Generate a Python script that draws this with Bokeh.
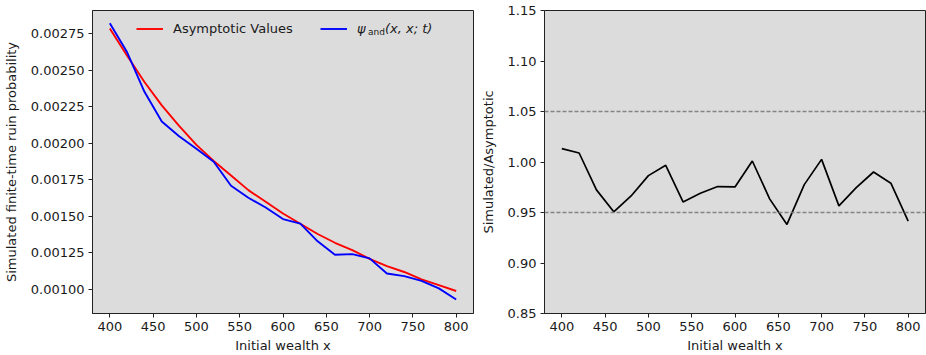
from bokeh.plotting import figure
from bokeh.layouts import row
from bokeh.models import (Legend, LegendItem, Label, FixedTicker, PrintfTickFormatter,
                          Span, Range1d)
from bokeh.embed import file_html
from bokeh.resources import INLINE

# ---- data ----
wealth = [400, 420, 440, 460, 480, 500, 520, 540, 560, 580, 600,
          620, 640, 660, 680, 700, 720, 740, 760, 780, 800]
asymptotic = [0.002786, 0.002600, 0.002420, 0.002260, 0.002120, 0.001990, 0.001880,
              0.001780, 0.001680, 0.001600, 0.001520, 0.001450, 0.001380, 0.001320,
              0.001270, 0.001210, 0.001160, 0.001120, 0.001070, 0.001030, 0.000990]
simulated = [0.002822, 0.002623, 0.002353, 0.002149, 0.002049, 0.001963, 0.001874,
             0.001710, 0.001628, 0.001561, 0.001482, 0.001451, 0.001330, 0.001238,
             0.001242, 0.001213, 0.001110, 0.001092, 0.001059, 0.001008, 0.000932]
ratio = [1.0132, 1.0089, 0.9724, 0.9507, 0.9664, 0.9865, 0.9967, 0.9605, 0.9691,
         0.9757, 0.9753, 1.0010, 0.9635, 0.9382, 0.9776, 1.0026, 0.9566, 0.9747,
         0.9901, 0.9790, 0.9414]
band_levels = [0.95, 1.05]
x_ticks = [400, 450, 500, 550, 600, 650, 700, 750, 800]
y1_ticks = [0.00100, 0.00125, 0.00150, 0.00175, 0.00200, 0.00225, 0.00250, 0.00275]
y2_ticks = [0.85, 0.90, 0.95, 1.00, 1.05, 1.10, 1.15]

FONT = "DejaVu Sans"
FS = "13px"
TXT = "#1a1a1a"
BG = "#dcdcdc"


def style(p, yticks, yfmt, ylabel):
    p.background_fill_color = BG
    p.border_fill_color = "white"
    p.outline_line_color = "#222222"
    p.outline_line_width = 1
    p.grid.visible = False
    for ax in (p.xaxis[0], p.yaxis[0]):
        ax.axis_line_color = "#222222"
        ax.major_tick_line_color = "#222222"
        ax.major_tick_in = 0
        ax.major_tick_out = 4
        ax.minor_tick_line_color = None
        ax.major_label_text_font = FONT
        ax.major_label_text_font_size = FS
        ax.major_label_text_color = TXT
        ax.axis_label_text_font = FONT
        ax.axis_label_text_font_size = FS
        ax.axis_label_text_font_style = "normal"
        ax.axis_label_text_color = TXT
    p.xaxis[0].ticker = FixedTicker(ticks=x_ticks)
    p.xaxis[0].axis_label = "Initial wealth x"
    p.xaxis[0].major_label_standoff = 4
    p.xaxis[0].axis_label_standoff = 4
    p.yaxis[0].ticker = FixedTicker(ticks=yticks)
    p.yaxis[0].formatter = PrintfTickFormatter(format=yfmt)
    p.yaxis[0].axis_label = ylabel
    p.yaxis[0].major_label_standoff = 4
    p.yaxis[0].axis_label_standoff = 9


H = 355
BT, BB = 10, 41
FH = H - BT - BB

# ---- left panel ----
p1 = figure(width=476, height=H, output_backend="svg", toolbar_location=None,
            x_range=Range1d(380, 820), y_range=Range1d(0.000836, 0.002909),
            min_border_left=90, min_border_right=3, min_border_top=BT, min_border_bottom=BB)
style(p1, y1_ticks, "%.5f", "Simulated finite-time ruin probability")
r_red = p1.line(wealth, asymptotic, line_color="#ff0000", line_width=1.9)
r_blue = p1.line(wealth, simulated, line_color="#0000ff", line_width=1.9)

item_center = FH - 19
LH = 15
leg_y = item_center - LH / 2


def make_legend(item, x, italic=False):
    return Legend(items=[item], location=(x, leg_y), orientation="horizontal",
                  padding=0, margin=0, border_line_color=None, background_fill_alpha=0,
                  glyph_width=27, glyph_height=LH, label_height=LH, label_standoff=10,
                  label_text_font=FONT, label_text_font_size=FS, label_text_color=TXT,
                  label_text_font_style="italic" if italic else "normal")


p1.add_layout(make_legend(LegendItem(label="Asymptotic Values", renderers=[r_red]), 44))
p1.add_layout(make_legend(LegendItem(label="ψ", renderers=[r_blue]), 228, italic=True))
p1.add_layout(Label(x=275.5, y=item_center - 3.5, x_units="screen", y_units="screen",
                    text="and", text_font=FONT, text_font_size="9px", text_color=TXT,
                    text_baseline="middle"))
p1.add_layout(Label(x=292.5, y=item_center, x_units="screen", y_units="screen",
                    text="(x, x; t)", text_font=FONT, text_font_size=FS, text_color=TXT,
                    text_font_style="italic", text_baseline="middle"))

# ---- right panel ----
p2 = figure(width=450, height=H, output_backend="svg", toolbar_location=None,
            x_range=Range1d(380, 820), y_range=Range1d(0.85, 1.15),
            min_border_left=68, min_border_right=1, min_border_top=BT, min_border_bottom=BB)
style(p2, y2_ticks, "%.2f", "Simulated/Asymptotic")
for lvl in band_levels:
    p2.add_layout(Span(location=lvl, dimension="width", line_color="#7a7a7a",
                       line_alpha=0.9, line_width=1.4, line_dash="4 2"))
p2.line(wealth, ratio, line_color="black", line_width=1.7)

layout = row(p1, p2)
open("out.html", "w").write(file_html(layout, INLINE))
